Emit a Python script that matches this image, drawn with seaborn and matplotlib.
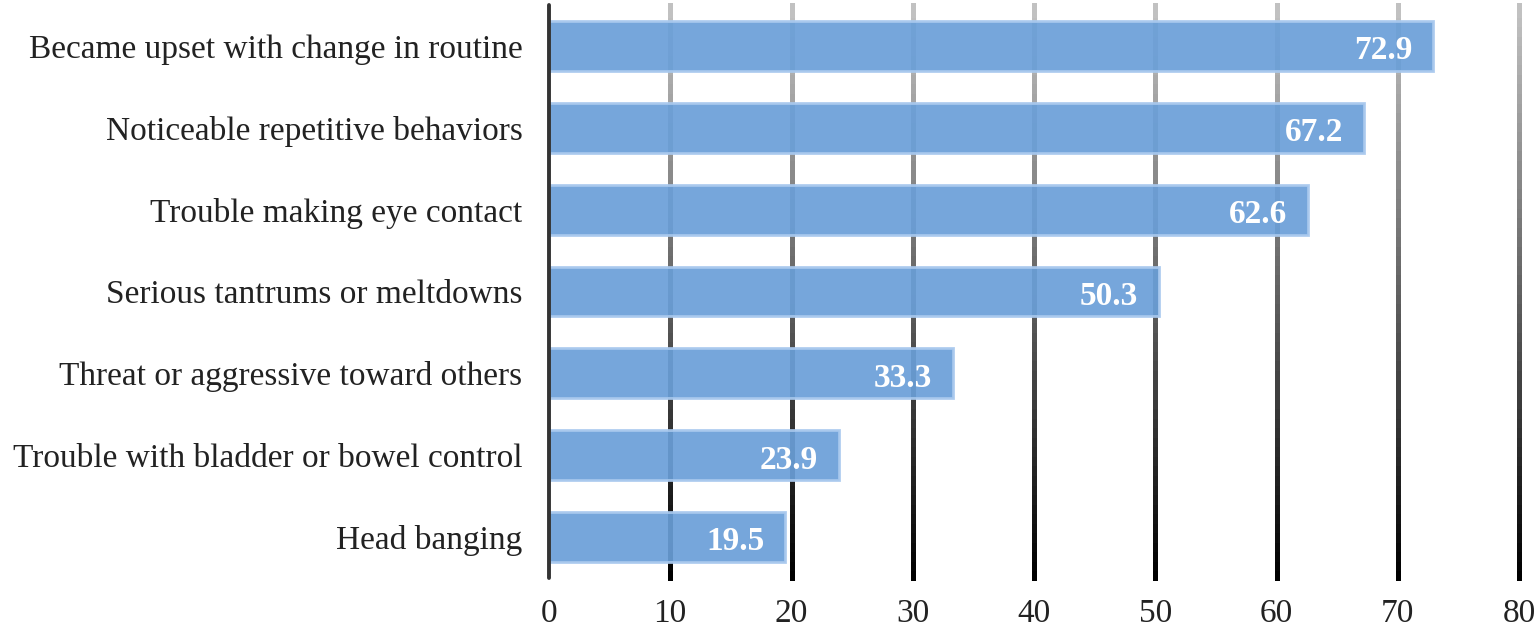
import numpy as np
import pandas as pd
import matplotlib
matplotlib.use('Agg')
import matplotlib.pyplot as plt
import seaborn as sns
from matplotlib.collections import LineCollection

categories = ['Became upset with change in routine',
              'Noticeable repetitive behaviors',
              'Trouble making eye contact',
              'Serious tantrums or meltdowns',
              'Threat or aggressive toward others',
              'Trouble with bladder or bowel control',
              'Head banging']
percent = [72.9, 67.2, 62.6, 50.3, 33.3, 23.9, 19.5]
xticks = [0, 10, 20, 30, 40, 50, 60, 70, 80]

sns.set_style('white')
plt.rcParams['font.family'] = ['Liberation Serif', 'DejaVu Serif']

df = pd.DataFrame({'item': categories, 'pct': percent})

fig = plt.figure(figsize=(15.35, 6.33), dpi=100)
ax = fig.add_axes([549/1535, 1-578/633, (1519-549)/1535, (578-5)/633])

sns.barplot(data=df, x='pct', y='item', orient='h', color='#6a9fd8',
            saturation=1, width=0.61, edgecolor='#a9c9ee', linewidth=2,
            alpha=0.92, ax=ax, zorder=3)

# gradient gridlines, light grey at top to black at bottom
n = 60
ys = np.linspace(0, 1, n + 1)
cmap = matplotlib.colors.LinearSegmentedColormap.from_list('g', ['#000000', '#c4c4c4'])
for xv in xticks[1:]:
    segs = [[(xv, ys[i]), (xv, ys[i + 1])] for i in range(n)]
    lc = LineCollection(segs, colors=[cmap(v) for v in ys[:-1]], linewidths=2.4,
                        capstyle='projecting', antialiaseds=False,
                        transform=ax.get_xaxis_transform(), zorder=1, clip_on=False)
    ax.add_collection(lc)
ax.axvline(0, color='#333333', lw=2.8, zorder=4, clip_on=False)

for i, v in enumerate(percent):
    ax.text(v - 1.7, i + 0.06, f'{v:.1f}', ha='right', va='center', color='white',
            fontsize=24, fontweight='bold', zorder=5)

ax.set_xlim(0, 80)
ax.set_ylim(6.5, -0.5)
ax.set_xticks(xticks)
ax.set_xlabel('')
ax.set_ylabel('')
for s in ax.spines.values():
    s.set_visible(False)
ax.tick_params(axis='x', labelsize=24, pad=15, length=0, colors='#222222')
ax.tick_params(axis='y', labelsize=24, pad=19, length=0, colors='#222222')

fig.savefig('out.png', dpi=100)
